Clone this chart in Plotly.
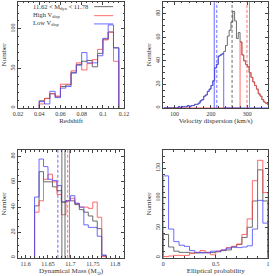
import plotly.graph_objects as go

FONT = "Liberation Serif"
C_ALL = "rgb(70,70,70)"
C_HIGH = "rgb(255,70,70)"
C_LOW = "rgb(70,70,255)"

# ---------------- Panel 1: Redshift ----------------
z_edges = [0.040, 0.045, 0.050, 0.055, 0.060, 0.065, 0.070, 0.075, 0.080,
           0.085, 0.090, 0.095, 0.100, 0.105, 0.110, 0.115]
z_all = [9, 12, 18, 14, 27, 29, 45, 55, 59, 60, 52, 69, 87, 96, 76]
z_high = [5, 12, 18, 15, 30, 30, 47, 57, 48, 56, 61, 74, 86, 96, 59]
z_low = [8, 5, 21, 13, 25, 27, 44, 54, 70, 57, 57, 66, 88, 105, 76]

# ---------------- Panel 2: Velocity dispersion ----------------
vd_edges = [70, 75, 80, 85, 90, 95, 100, 105, 110, 115, 120, 125, 130, 135,
            140, 145, 150, 155, 160, 165, 170, 175, 180, 185, 190, 195, 200,
            205, 210, 215, 220, 225, 230, 235, 240, 245, 250, 255, 260, 265,
            270, 275, 280, 285, 290, 295, 300, 305, 310, 315, 320, 325, 330,
            335, 340, 345, 350, 355, 360]
vd_all = [0, 0, 0, 0, 0, 0,
          0, 0, 1, 0, 1, 1, 1, 2, 1, 2,
          2, 3, 3, 4, 6, 7, 10, 11, 14, 16,
          19, 23, 34, 37, 44, 45, 46, 48, 53, 61,
          66, 73, 82, 74, 59, 64, 56, 45, 40, 37,
          35, 30, 26, 22, 19, 16, 12, 10, 7, 5,
          4, 3]
vd_low = [0, 0, 0, 0, 0, 0,
          0, 0, 1, 0, 1, 1, 1, 2, 1, 2,
          2, 3, 3, 4, 6, 7, 10, 11, 14, 16,
          19, 23, 34, 37, 44, 45, 46, 0, 0, 0,
          0, 0, 0, 0, 0, 0, 0, 0, 0, 0,
          0, 0, 0, 0, 0, 0, 0, 0, 0, 0,
          0, 0]
vd_high = [0, 0, 0, 0, 0, 0,
           0, 0, 0, 0, 0, 0, 0, 0, 0, 0,
           0, 0, 0, 0, 0, 0, 0, 0, 0, 0,
           0, 0, 0, 0, 0, 0, 0, 0, 0, 0,
           0, 0, 0, 0, 0, 0, 56, 45, 40, 37,
           35, 30, 26, 22, 19, 16, 12, 10, 7, 5,
           4, 3]
vd_low_median, vd_low_mean = 209, 216
vd_all_mean = 258
vd_high_mean, vd_high_median = 299, 306

# ---------------- Panel 3: Dynamical mass ----------------
m_edges = [11.62, 11.63, 11.64, 11.65, 11.66, 11.67, 11.68, 11.69, 11.70,
           11.71, 11.72, 11.73, 11.74, 11.75, 11.76, 11.77, 11.78]
m_all = [41, 68, 60, 60, 56, 53, 44, 45, 45, 42, 38, 36, 33, 29, 23, 2]
m_high = [36, 45, 62, 66, 60, 50, 34, 45, 47, 43, 40, 40, 39, 44, 32, 1]
m_low = [48, 78, 72, 62, 61, 57, 44, 45, 49, 43, 40, 26, 24, 24, 17, 2]
m_low_mean = 11.672
m_all_mean, m_all_median = 11.681, 11.688
m_high_mean, m_high_median = 11.694, 11.698

# ---------------- Panel 4: Elliptical probability ----------------
pe_edges = [0.00, 0.05, 0.10, 0.15, 0.20, 0.25, 0.30, 0.35, 0.40, 0.45, 0.50,
            0.55, 0.60, 0.65, 0.70, 0.75, 0.80, 0.85, 0.90, 0.95, 1.00]
pe_all = [39, 18, 11, 9, 9, 8, 8, 9, 9, 9, 10, 12, 13, 18, 22, 34, 51, 95, 147, 95]
pe_high = [2, 3, 4, 4, 4, 7, 9, 12, 9, 5, 11, 13, 17, 19, 23, 39, 65, 129, 163, 109]
pe_low = [137, 48, 27, 21, 19, 12, 9, 8, 8, 11, 11, 13, 16, 18, 17, 18, 20, 48, 96, 58]


def step_xy(edges, counts):
    x = [edges[0]] + list(edges)
    y = [0] + list(counts) + [0]
    return x, y


fig = go.Figure()
LW = 0.8


def add_hist(edges, counts, color, xa, ya):
    x, y = step_xy(edges, counts)
    fig.add_trace(go.Scatter(x=x, y=y, mode="lines", line_shape="hv",
                             line=dict(color=color, width=LW),
                             xaxis=xa, yaxis=ya, showlegend=False,
                             hoverinfo="skip"))


for counts, col in [(z_all, C_ALL), (z_high, C_HIGH), (z_low, C_LOW)]:
    add_hist(z_edges, counts, col, "x", "y")
for counts, col in [(vd_all, C_ALL), (vd_high, C_HIGH), (vd_low, C_LOW)]:
    add_hist(vd_edges, counts, col, "x2", "y2")
for counts, col in [(m_all, C_ALL), (m_high, C_HIGH), (m_low, C_LOW)]:
    add_hist(m_edges, counts, col, "x3", "y3")
for counts, col in [(pe_all, C_ALL), (pe_high, C_HIGH), (pe_low, C_LOW)]:
    add_hist(pe_edges, counts, col, "x4", "y4")

shapes = []
DASH = "3px,2px"


def vline(x, xref, yref, color, dash):
    shapes.append(dict(type="line", xref=xref, yref=yref + " domain",
                       x0=x, x1=x, y0=0, y1=1,
                       line=dict(color=color, width=LW, dash=dash)))


vline(vd_low_median, "x2", "y2", C_LOW, "solid")
vline(vd_low_mean, "x2", "y2", C_LOW, DASH)
vline(vd_all_mean, "x2", "y2", C_ALL, DASH)
vline(vd_high_mean, "x2", "y2", C_HIGH, DASH)
vline(vd_high_median, "x2", "y2", C_HIGH, "solid")

vline(m_low_mean, "x3", "y3", C_LOW, DASH)
vline(m_all_mean, "x3", "y3", C_ALL, "solid")
vline(m_all_median, "x3", "y3", C_ALL, "solid")
vline(m_high_mean, "x3", "y3", C_HIGH, DASH)
vline(m_high_median, "x3", "y3", C_HIGH, "solid")

# legend in panel 1
leg_labels = ["11.62 < M<sub>dyn</sub> < 11.78", "High V<sub>disp</sub>", "Low V<sub>disp</sub>"]
leg_colors = [C_ALL, C_HIGH, C_LOW]
leg_text_y = [0.956, 0.878, 0.805]
leg_line_y = [0.956, 0.871, 0.793]
annotations = []
for lab, col, ty, ly in zip(leg_labels, leg_colors, leg_text_y, leg_line_y):
    annotations.append(dict(text=lab, xref="x domain", yref="y domain",
                            x=0.12, y=ty, xanchor="left", yanchor="middle",
                            showarrow=False,
                            font=dict(family=FONT, size=6.5, color="#333")))
    shapes.append(dict(type="line", xref="x domain", yref="y domain",
                       x0=0.717, x1=0.897, y0=ly, y1=ly,
                       line=dict(color=col, width=LW)))


def axis(rng, dtick, minor_dtick, title, dom, anchor, yaxis=False, **kw):
    d = dict(range=rng, dtick=dtick, tick0=0, domain=dom, anchor=anchor,
             showline=True, linecolor="#444", linewidth=0.9, mirror="allticks",
             ticks="inside", ticklen=3, tickwidth=0.7, tickcolor="#444",
             showgrid=False, zeroline=False,
             tickfont=dict(family=FONT, size=6, color="#333"),
             minor=dict(ticks="inside", ticklen=1.5, tickcolor="#444",
                        tickwidth=0.7, dtick=minor_dtick, tick0=0,
                        showgrid=False),
             title=dict(text=title, font=dict(family=FONT, size=7, color="#333"),
                        standoff=2))
    if yaxis:
        d["tickangle"] = -90
    d.update(kw)
    return d


XD_L = [13.5 / 275, 123.6 / 275]
XD_R = [164.3 / 275, 273 / 275]
YD_T = [1 - 108.3 / 276, 1 - 2 / 276]
YD_B = [1 - 258.7 / 276, 1 - 150.7 / 276]

fig.update_layout(
    width=275, height=276,
    margin=dict(l=0, r=0, t=0, b=0),
    paper_bgcolor="white", plot_bgcolor="white",
    showlegend=False,
    xaxis=axis([0.02, 0.12], 0.02, 0.005, "Redshift", XD_L, "y"),
    yaxis=axis([0, 134], 50, 10, "Number", YD_T, "x", yaxis=True),
    xaxis2=axis([69, 357], 100, 20, "Velocity dispersion (km/s)", XD_R, "y2"),
    yaxis2=axis([0, 90], 20, 5, "Number", YD_T, "x2", yaxis=True),
    xaxis3=axis([11.583, 11.82], 0.05, 0.01, "Dynamical Mass (M<sub>⊙</sub>)", XD_L, "y3"),
    yaxis3=axis([0, 85], 20, 5, "Number", YD_B, "x3", yaxis=True),
    xaxis4=axis([0, 1], 0.5, 0.1, "Elliptical probability", XD_R, "y4"),
    yaxis4=axis([0, 180], 50, 10, "Number", YD_B, "x4", yaxis=True),
    shapes=shapes,
    annotations=annotations,
)

fig.write_html("out.html", config={"displayModeBar": False},
               post_script="document.body.style.margin='0';document.body.style.padding='0';")
